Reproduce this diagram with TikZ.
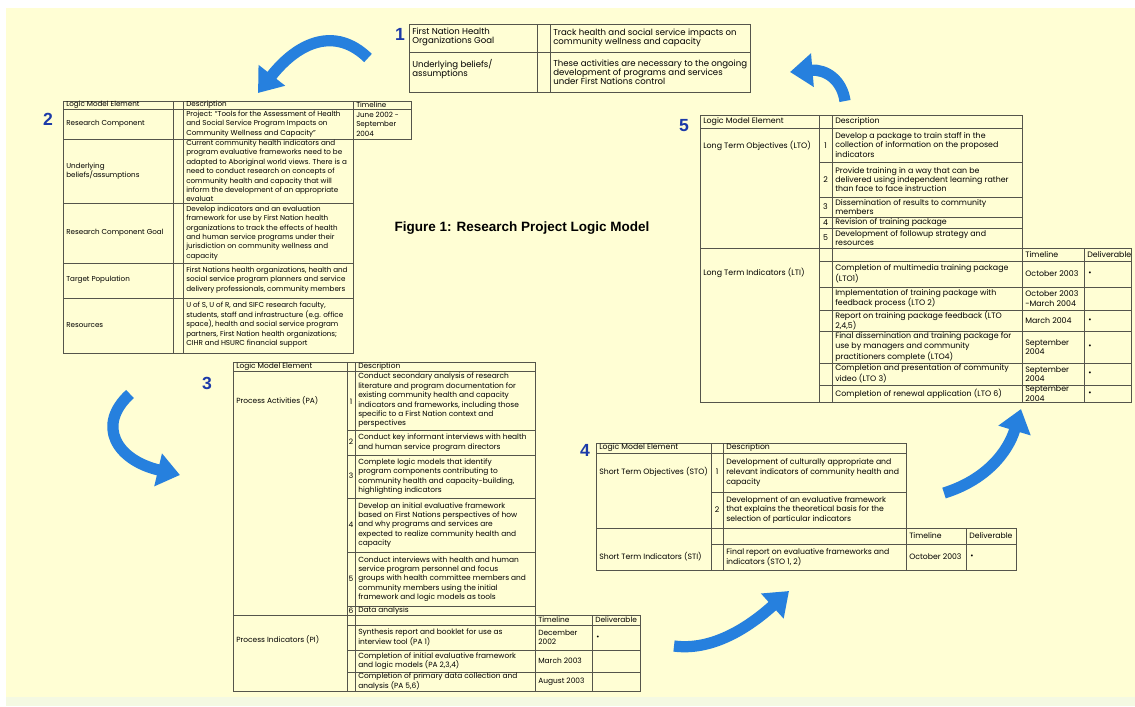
\documentclass[tikz,border=0pt]{standalone}
\usepackage{fontspec}
\newfontfamily\cellfont{Poppins}
\newfontfamily\headfont{Liberation Sans}
\usetikzlibrary{
  arrows.meta
}
\definecolor{paper}{RGB}{255,254,212}
\definecolor{strip}{RGB}{244,249,226}
\definecolor{rulegray}{RGB}{85,85,75}
\definecolor{numblue}{RGB}{28,58,168}
\definecolor{swoosh}{RGB}{38,128,222}

\begin{document}
\begin{tikzpicture}[
  x=0.025cm, y=-0.025cm,
  cellrule/.style={draw=rulegray, line width=0.5pt},
  txt/.style={anchor=west, align=left, inner sep=0pt},
  num/.style={inner sep=0pt},
  stepno/.style={inner sep=0pt, text=numblue, font=\headfont\bfseries\fontsize{12.5}{12.5}\selectfont},
  swooshline/.style={draw=swoosh, line width=8pt, -{Triangle[width=23pt, length=16pt]}},
]
\fill[white] (0,0) rectangle (1135,706);
\fill[paper] (6,8) rectangle (1135,697);
\fill[strip] (6,697) rectangle (1135,706);
\useasboundingbox (0,0) rectangle (1135,706);

\node[stepno] (no1) at (400,34) {1};
\node[stepno] (no2) at (48,119) {2};
\node[stepno] (no3) at (207,383) {3};
\node[stepno] (no4) at (585,450) {4};
\node[stepno] (no5) at (684,126) {5};
\node[inner sep=0pt, font=\headfont\bfseries\fontsize{9.6}{9.6}\selectfont] (title) at (522,228) {Figure 1: Research Project Logic Model};

\begin{scope}[font=\cellfont\fontsize{6.1}{6.5}\selectfont]
\draw[cellrule] (409,24) rectangle (750,92);
\draw[cellrule] (537,24) -- (537,92) (550,24) -- (550,92) (409,52) -- (750,52);
\node[txt] (t1a) at (412,37) {First Nation Health\\Organizations Goal};
\node[txt] (t1b) at (553,38) {Track health and social service impacts on\\community wellness and capacity};
\node[txt] (t1c) at (412,69) {Underlying beliefs/\\assumptions};
\node[txt] (t1d) at (553,72) {These activities are necessary to the ongoing\\development of programs and services\\under First Nations control};
\end{scope}

\begin{scope}[font=\cellfont\fontsize{5.1}{6.7}\selectfont]
\draw[cellrule] (63,101) -- (411,101) -- (411,139) -- (353,139) -- (353,353) -- (63,353) -- cycle;
\draw[cellrule] (173,101) -- (173,353) (183,101) -- (183,353) (353,101) -- (353,139);
\draw[cellrule] (63,109) -- (411,109) (63,139) -- (353,139) (63,203) -- (353,203) (63,263) -- (353,263) (63,298) -- (353,298);
\node[txt] (h2a) at (66,105) {Logic Model Element};
\node[txt] (h2b) at (186,105) {Description};
\node[txt] (h2c) at (356,105) {Timeline};
\node[txt] (e2a) at (66,124) {Research Component};
\node[txt] (d2a) at (186,124) {Project: “Tools for the Assessment of Health\\and Social Service Program Impacts on\\Community Wellness and Capacity”};
\node[txt] (m2a) at (356,124) {June 2002 -\\September\\2004};
\node[txt] (e2b) at (66,171) {Underlying\\beliefs/assumptions};
\node[txt] (d2b) at (186,171) {Current community health indicators and\\program evaluative frameworks need to be\\adapted to Aboriginal world views. There is a\\need to conduct research on concepts of\\community health and capacity that will\\inform the development of an appropriate\\evaluat};
\node[txt] (e2c) at (66,233) {Research Component Goal};
\node[txt] (d2c) at (186,233) {Develop indicators and an evaluation\\framework for use by First Nation health\\organizations to track the effects of health\\and human service programs under their\\jurisdiction on community wellness and\\capacity};
\node[txt] (e2d) at (66,280) {Target Population};
\node[txt] (d2d) at (186,280) {First Nations health organizations, health and\\social service program planners and service\\delivery professionals, community members};
\node[txt] (e2e) at (66,325) {Resources};
\node[txt] (d2e) at (186,325) {U of S, U of R, and SIFC research faculty,\\students, staff and infrastructure (e.g. office\\space), health and social service program\\partners, First Nation health organizations;\\CIHR and HSURC financial support};
\end{scope}

\begin{scope}[font=\cellfont\fontsize{5.3}{6.7}\selectfont]
\draw[cellrule] (233,362) -- (535,362) -- (535,615) -- (640,615) -- (640,691) -- (233,691) -- cycle;
\draw[cellrule] (347,362) -- (347,691) (355,362) -- (355,691) (535,615) -- (535,691) (592,615) -- (592,691);
\draw[cellrule] (233,371) -- (535,371) (347,430) -- (535,430) (347,455) -- (535,455) (347,498) -- (535,498) (347,552) -- (535,552) (347,606) -- (535,606) (233,615) -- (535,615) (347,625) -- (640,625) (347,650) -- (640,650) (347,672) -- (640,672);
\node[txt] (h3a) at (236,366.5) {Logic Model Element};
\node[txt] (h3b) at (358,366.5) {Description};
\node[txt] (e3a) at (236,401) {Process Activities (PA)};
\node[num] (n3a) at (351,402) {1};
\node[num] (n3b) at (351,442) {2};
\node[num] (n3c) at (351,476) {3};
\node[num] (n3d) at (351,525) {4};
\node[num] (n3e) at (351,579) {5};
\node[num] (n3f) at (351,610.5) {6};
\node[txt] (d3a) at (358,400.5) {Conduct secondary analysis of research\\literature and program documentation for\\existing community health and capacity\\indicators and frameworks, including those\\specific to a First Nation context and\\perspectives};
\node[txt] (d3b) at (358,442.5) {Conduct key informant interviews with health\\and human service program directors};
\node[txt] (d3c) at (358,476.5) {Complete logic models that identify\\program components contributing to\\community health and capacity-building,\\highlighting indicators};
\node[txt] (d3d) at (358,525) {Develop an initial evaluative framework\\based on First Nations perspectives of how\\and why programs and services are\\expected to realize community health and\\capacity};
\node[txt] (d3e) at (358,579) {Conduct interviews with health and human\\service program personnel and focus\\groups with health committee members and\\community members using the initial\\framework and logic models as tools};
\node[txt] (d3f) at (358,610.5) {Data analysis};
\node[txt] (h3c) at (538,620) {Timeline};
\node[txt] (h3d) at (595,620) {Deliverable};
\node[txt] (e3b) at (236,640) {Process Indicators (PI)};
\node[txt] (d3g) at (358,637.5) {Synthesis report and booklet for use as\\interview tool (PA 1)};
\node[txt] (m3a) at (538,637.5) {December\\2002};
\node[txt] (k3a) at (596,637.5) {\textbullet};
\node[txt] (d3h) at (358,661) {Completion of initial evaluative framework\\and logic models (PA 2,3,4)};
\node[txt] (m3b) at (538,661) {March 2003};
\node[txt] (d3i) at (358,681.5) {Completion of primary data collection and\\analysis (PA 5,6)};
\node[txt] (m3c) at (538,681.5) {August 2003};
\end{scope}

\begin{scope}[font=\cellfont\fontsize{5.5}{7}\selectfont]
\draw[cellrule] (596,443) -- (906,443) -- (906,528) -- (1016,528) -- (1016,570) -- (596,570) -- cycle;
\draw[cellrule] (711,443) -- (711,570) (723,443) -- (723,570) (906,528) -- (906,570) (966,528) -- (966,570);
\draw[cellrule] (596,453) -- (906,453) (711,492) -- (906,492) (596,528) -- (906,528) (711,544) -- (1016,544);
\node[txt] (h4a) at (599,448) {Logic Model Element};
\node[txt] (h4b) at (726,448) {Description};
\node[txt] (e4a) at (599,472) {Short Term Objectives (STO)};
\node[num] (n4a) at (717,472) {1};
\node[num] (n4b) at (717,510) {2};
\node[txt] (d4a) at (726,472.5) {Development of culturally appropriate and\\relevant indicators of community health and\\capacity};
\node[txt] (d4b) at (726,510) {Development of an evaluative framework\\that explains the theoretical basis for the\\selection of particular indicators};
\node[txt] (h4c) at (909,536) {Timeline};
\node[txt] (h4d) at (969,536) {Deliverable};
\node[txt] (e4b) at (599,557) {Short Term Indicators (STI)};
\node[txt] (d4c) at (726,557) {Final report on evaluative frameworks and\\indicators (STO 1, 2)};
\node[txt] (m4a) at (909,557) {October 2003};
\node[txt] (k4a) at (970,557) {\textbullet};
\end{scope}

\begin{scope}[font=\cellfont\fontsize{5.6}{6.6}\selectfont]
\draw[cellrule] (700,115) -- (1022,115) -- (1022,248) -- (1131,248) -- (1131,402) -- (700,402) -- cycle;
\draw[cellrule] (819,115) -- (819,402) (832,115) -- (832,402) (1022,248) -- (1022,402) (1084,248) -- (1084,402);
\draw[cellrule] (700,128) -- (1022,128) (819,162) -- (1022,162) (819,197) -- (1022,197) (819,217) -- (1022,217) (819,228) -- (1022,228) (700,248) -- (1022,248);
\draw[cellrule] (819,261) -- (1131,261) (819,287) -- (1131,287) (819,310) -- (1131,310) (819,331) -- (1131,331) (819,363) -- (1131,363) (819,385) -- (1131,385);
\node[txt] (h5a) at (703,121.5) {Logic Model Element};
\node[txt] (h5b) at (835,121.5) {Description};
\node[txt] (e5a) at (703,146) {Long Term Objectives (LTO)};
\node[num] (n5a) at (825.5,146) {1};
\node[num] (n5b) at (825.5,180) {2};
\node[num] (n5c) at (825.5,207) {3};
\node[num] (n5d) at (825.5,222.5) {4};
\node[num] (n5e) at (825.5,238) {5};
\node[txt] (d5a) at (835,145) {Develop a package to train staff in the\\collection of information on the proposed\\indicators};
\node[txt] (d5b) at (835,179.5) {Provide training in a way that can be\\delivered using independent learning rather\\than face to face instruction};
\node[txt] (d5c) at (835,207) {Dissemination of results to community\\members};
\node[txt] (d5d) at (835,222.5) {Revision of training package};
\node[txt] (d5e) at (835,238) {Development of followup strategy and\\resources};
\node[txt] (h5c) at (1025,254.5) {Timeline};
\node[txt] (h5d) at (1087,254.5) {Deliverable};
\node[txt] (e5b) at (703,273) {Long Term Indicators (LTI)};
\node[txt] (d5f) at (835,274) {Completion of multimedia training package\\(LTO1)};
\node[txt] (d5g) at (835,298.5) {Implementation of training package with\\feedback process (LTO 2)};
\node[txt] (d5h) at (835,320.5) {Report on training package feedback (LTO\\2,4,5)};
\node[txt] (d5i) at (835,347) {Final dissemination and training package for\\use by managers and community\\practitioners complete (LTO4)};
\node[txt] (d5j) at (835,374) {Completion and presentation of community\\video (LTO 3)};
\node[txt] (d5k) at (835,393.5) {Completion of renewal application (LTO 6)};
\node[txt] (m5a) at (1025,274) {October 2003};
\node[txt] (m5b) at (1025,298.5) {October 2003\\-March 2004};
\node[txt] (m5c) at (1025,320.5) {March 2004};
\node[txt] (m5d) at (1025,347) {September\\2004};
\node[txt] (m5e) at (1025,374) {September\\2004};
\node[txt] (m5f) at (1025,393.5) {September\\2004};
\node[txt] (k5a) at (1088,274) {\textbullet};
\node[txt] (k5b) at (1088,320.5) {\textbullet};
\node[txt] (k5c) at (1088,347) {\textbullet};
\node[txt] (k5d) at (1088,374) {\textbullet};
\node[txt] (k5e) at (1088,393.5) {\textbullet};
\end{scope}

\coordinate (s12a) at (368,58);
\coordinate (s12b) at (258,93);
\coordinate (s23a) at (130,394);
\coordinate (s23b) at (180,475);
\coordinate (s34a) at (674,646);
\coordinate (s34b) at (789,591);
\coordinate (s45a) at (944,493);
\coordinate (s45b) at (1021,409);
\coordinate (s51a) at (845,101);
\coordinate (s51b) at (790,72);
\draw[swooshline] (s12a) .. controls (335,26) and (298,42) .. (s12b);
\draw[swooshline] (s23a) .. controls (96,425) and (116,460) .. (s23b);
\draw[swooshline] (s34a) .. controls (712,651) and (748,628) .. (s34b);
\draw[swooshline] (s45a) .. controls (986,480) and (1008,452) .. (s45b);
\draw[swooshline] (s51a) .. controls (842,80) and (826,69) .. (s51b);
\end{tikzpicture}
\end{document}
